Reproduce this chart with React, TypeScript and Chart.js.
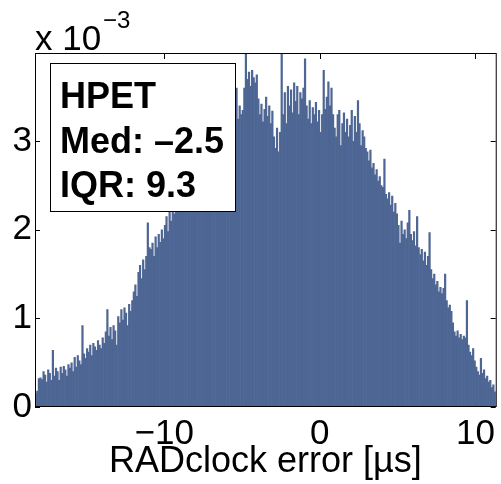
import React, { useEffect, useRef } from "react";
import { Chart, registerables } from "chart.js";

Chart.register(...registerables);

// Histogram of RADclock error, bin width 0.1 µs, first bin starting at -18.3 µs
const BIN_START = -18.3;
const BIN_WIDTH = 0.1;
// density values, in units of 10^-3
const DENSITY: number[] = [
  0.15, 0.18, 0.32,
  0.33, 0.31, 0.40, 0.36, 0.28, 0.42, 0.38, 0.30, 0.64, 0.35,
  0.44, 0.40, 0.30, 0.45, 0.38, 0.46, 0.42, 0.35, 0.48, 0.44,
  0.50, 0.40, 0.56, 0.45, 0.58, 0.52, 0.48, 0.92, 0.60, 0.55,
  0.66, 0.62, 0.70, 0.58, 0.72, 0.68, 0.64, 0.75, 0.70, 0.66,
  0.78, 0.72, 0.85, 1.10, 0.80, 0.90, 0.76, 0.92, 0.86, 0.70,
  1.02, 0.95, 1.10, 0.98, 1.12, 1.06, 0.92, 1.16, 1.08, 1.20,
  1.30, 1.38, 1.25, 1.52, 1.60, 1.45, 1.66, 1.55, 1.70, 2.08,
  1.80, 1.78, 1.85, 1.70, 1.92, 1.80, 1.95, 1.86, 2.00, 1.90,
  2.05, 2.15, 1.98, 2.20, 2.10, 2.25, 2.18, 2.30, 2.22, 2.35,
  2.40, 2.32, 2.45, 2.50, 2.38, 2.55, 2.48, 2.60, 2.52, 2.65,
  2.70, 2.62, 2.75, 2.80, 2.68, 2.85, 2.78, 2.92, 2.84, 2.95,
  3.00, 2.92, 3.05, 3.10, 2.98, 3.15, 3.08, 3.20, 3.12, 3.25,
  3.30, 3.22, 3.35, 3.40, 3.28, 3.45, 3.60, 3.25, 3.40, 3.30,
  3.35, 3.60, 3.99, 3.70, 3.78, 3.62, 3.80, 3.72, 3.66, 3.75,
  3.48, 3.30, 3.42, 3.22, 3.36, 3.50, 3.28, 3.40, 3.20, 3.34,
  3.05, 2.92, 3.15, 2.88, 3.10, 3.99, 3.30, 3.55, 3.20, 3.62,
  3.40, 3.58, 3.32, 3.66, 3.45, 3.62, 3.30, 3.55, 3.48, 3.60,
  3.93, 3.40, 3.25, 3.46, 3.20, 3.38, 3.30, 3.44, 3.22, 3.35,
  3.10, 3.30, 3.80, 3.36, 3.50, 3.67, 3.40, 3.60, 3.30, 3.15,
  3.05, 3.30, 3.35, 2.95, 3.20, 3.32, 3.10, 3.25, 3.05, 3.18,
  3.35, 3.00, 3.28, 3.10, 3.46, 3.20, 2.95, 3.12, 3.05, 2.92,
  2.88, 2.78, 2.90, 2.70, 2.75, 2.62, 2.68, 2.55, 2.60, 2.50,
  2.48, 2.80, 2.40, 2.35, 2.42, 2.28, 2.38, 2.20, 2.30, 2.18,
  2.05, 1.85, 2.10, 1.95, 2.00, 1.90, 2.08, 2.22, 1.95, 1.88,
  1.98, 1.82, 2.15, 1.80, 1.72, 1.78, 1.65, 1.75, 1.60, 1.70,
  1.97, 1.55, 1.45, 1.50, 1.38, 1.42, 1.30, 1.35, 1.28, 1.34,
  1.50, 1.20, 1.12, 1.15, 1.08, 0.95, 0.85, 0.80, 0.86, 0.78,
  0.82, 0.76, 0.80, 0.78, 1.20, 0.70, 0.62, 0.58, 0.66, 0.52,
  0.45, 0.40, 0.36, 0.55, 0.38, 0.42, 0.32, 0.35, 0.28, 0.30,
  0.22, 0.25, 0.17,
];

const X_MIN = -18.3;
const X_MAX = 11.3;
const Y_MIN = 0;
const Y_MAX = 3.985;
const X_TICKS = [-10, 0, 10];
const Y_TICKS = [0, 1, 2, 3];
const X_LABEL = "RADclock error [µs]";
const EXP_BASE = "x 10";
const EXP_POWER = "−3";
const BOX_LINES = ["HPET", "Med: –2.5", "IQR: 9.3"];
const BAR_COLOR = "#4e6694";
const FONT = "'Liberation Sans', Arial, Helvetica, sans-serif";

const fmtTick = (v: number) => (v < 0 ? "−" + Math.abs(v) : String(v));

const decorPlugin = {
  id: "decor",
  beforeDatasetsDraw(chart: any) {
    const { ctx, chartArea: a, scales } = chart;
    const xs = scales.x;
    const ys = scales.y;
    ctx.save();
    ctx.strokeStyle = "#000";
    ctx.lineWidth = 1;
    const tl = 5;
    ctx.beginPath();
    X_TICKS.forEach((t) => {
      const px = Math.round(xs.getPixelForValue(t)) + 0.5;
      ctx.moveTo(px, a.top);
      ctx.lineTo(px, a.top + tl);
      ctx.moveTo(px, a.bottom);
      ctx.lineTo(px, a.bottom - tl);
    });
    Y_TICKS.forEach((t) => {
      const py = Math.round(ys.getPixelForValue(t)) + 0.5;
      ctx.moveTo(a.left, py);
      ctx.lineTo(a.left + tl, py);
      ctx.moveTo(a.right, py);
      ctx.lineTo(a.right - tl, py);
    });
    ctx.stroke();
    ctx.restore();
  },
  afterDatasetsDraw(chart: any) {
    const { ctx, chartArea: a } = chart;
    ctx.save();
    // axes frame
    ctx.strokeStyle = "#000";
    ctx.lineWidth = 1;
    ctx.strokeRect(a.left + 0.5, a.top - 0.5, a.right - a.left, a.bottom - a.top);
    // stats box
    const bx = 50, by = 63, bw = 186, bh = 149;
    ctx.fillStyle = "#fff";
    ctx.fillRect(bx, by, bw, bh);
    ctx.strokeRect(bx + 0.5, by + 0.5, bw - 1, bh - 1);
    ctx.fillStyle = "#000";
    ctx.font = `bold 36px ${FONT}`;
    ctx.textAlign = "left";
    ctx.textBaseline = "alphabetic";
    const baselines = [108, 152.5, 197];
    BOX_LINES.forEach((s, i) => ctx.fillText(s, 60, baselines[i]));
    // exponent label
    ctx.font = `35px ${FONT}`;
    ctx.fillText(EXP_BASE, 35, 50);
    ctx.font = `24px ${FONT}`;
    ctx.fillText(EXP_POWER, 103, 28);
    ctx.restore();
  },
};

export default function App() {
  const ref = useRef<HTMLCanvasElement | null>(null);
  useEffect(() => {
    if (!ref.current) return;
    const points = DENSITY.map((v, i) => ({ x: BIN_START + (i + 0.5) * BIN_WIDTH, y: v }));
    const chart = new Chart(ref.current, {
      type: "bar",
      data: {
        datasets: [
          {
            data: points as any,
            backgroundColor: BAR_COLOR,
            borderWidth: 0,
            barPercentage: 1,
            categoryPercentage: 1,
          },
        ],
      },
      options: {
        animation: false,
        responsive: false,
        maintainAspectRatio: false,
        layout: { padding: { left: 0, top: 54, right: 1, bottom: 0 } },
        plugins: { legend: { display: false }, tooltip: { enabled: false } },
        scales: {
          x: {
            type: "linear",
            min: X_MIN,
            max: X_MAX,
            offset: false,
            grid: { display: false, drawTicks: false, offset: false },
            border: { display: false },
            afterBuildTicks: (s: any) => {
              s.ticks = X_TICKS.map((v) => ({ value: v }));
            },
            afterFit: (s: any) => {
              s.height = 77;
            },
            ticks: {
              autoSkip: false,
              maxRotation: 0,
              padding: 6,
              color: "#000",
              font: { family: FONT, size: 35 },
              callback: (v: any) => fmtTick(Number(v)),
            },
            title: {
              display: true,
              text: X_LABEL,
              color: "#000",
              font: { family: FONT, size: 36, lineHeight: 1 },
              padding: { top: 0, bottom: 4 },
            },
          },
          y: {
            min: Y_MIN,
            max: Y_MAX,
            grid: { display: false, drawTicks: false },
            border: { display: false },
            afterBuildTicks: (s: any) => {
              s.ticks = Y_TICKS.map((v) => ({ value: v }));
            },
            afterFit: (s: any) => {
              s.width = 35;
            },
            ticks: {
              padding: 3,
              color: "#000",
              font: { family: FONT, size: 35 },
              callback: (v: any) => fmtTick(Number(v)),
            },
          },
        },
      },
      plugins: [decorPlugin],
    });
    return () => chart.destroy();
  }, []);
  return (
    <div style={{ position: "fixed", left: 0, top: 0, width: 501, height: 484, background: "#fff" }}>
      <canvas ref={ref} width={501} height={484} style={{ display: "block" }} />
    </div>
  );
}
